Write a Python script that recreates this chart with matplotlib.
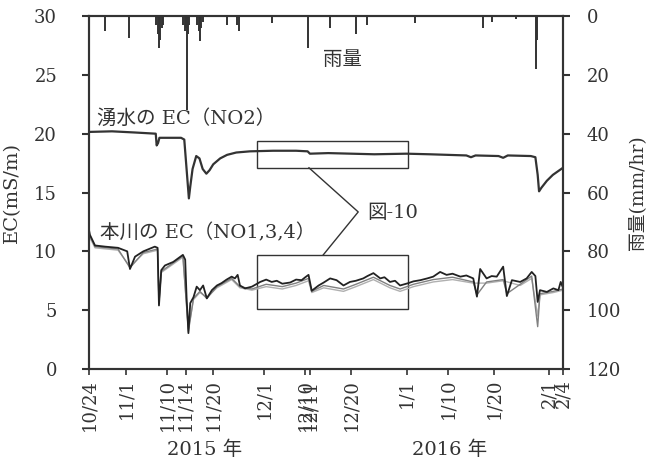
import matplotlib
matplotlib.use('Agg')
import matplotlib.pyplot as plt
import pandas as pd

plt.rcParams['font.family'] = ['DejaVu Serif', 'Noto Sans CJK JP']

start = pd.Timestamp('2015-10-24')

# x 軸の目盛 (日付)
tick_dates = ['2015-10-24', '2015-11-01', '2015-11-10', '2015-11-14', '2015-11-20',
              '2015-12-01', '2015-12-10', '2015-12-11', '2015-12-20',
              '2016-01-01', '2016-01-10', '2016-01-20', '2016-02-01', '2016-02-04']
tick_labels = ['10/24', '11/1', '11/10', '11/14', '11/20', '12/1', '12/10', '12/11',
               '12/20', '1/1', '1/10', '1/20', '2/1', '2/4']

# 湧水の EC (NO2) : 10/24 からの経過日数, mS/m
spring_day = [0, 5, 10, 14.5, 14.7, 15.0, 15.3, 20, 20.7, 21.0, 21.5, 21.7, 22.0, 22.5,
              23.3, 24.0, 24.7, 25.5, 26.2, 27.0, 28.5, 30, 32, 35, 40, 45, 47.5, 48,
              52, 57, 62, 69, 74, 78, 82, 83, 84, 89, 90, 91, 96, 97.0, 97.5, 97.8,
              98.3, 99.5, 100.8, 102.8, 103]
spring_ec = [20.15, 20.2, 20.1, 20.0, 19.0, 19.2, 19.65, 19.65, 19.5, 18.0, 15.5, 14.5,
             15.5, 17.0, 18.1, 17.9, 17.0, 16.6, 16.9, 17.4, 17.9, 18.2, 18.4, 18.5,
             18.55, 18.55, 18.5, 18.3, 18.35, 18.3, 18.25, 18.3, 18.25, 18.2, 18.15,
             18.0, 18.15, 18.1, 17.95, 18.15, 18.1, 18.0, 16.5, 15.1, 15.4, 16.0, 16.5,
             17.05, 17.1]

# 本川の EC (NO1) 濃い線
no1_day = [0, 0.2, 1.3, 3.5, 6.3, 8.3, 8.9, 10, 11.8, 14.3, 14.9, 15.2, 15.7, 16.5,
           18.3, 20.4, 20.9, 21.2, 21.6, 22.0, 22.7, 23.4, 24.1, 24.8, 25.6, 26.7,
           27.8, 28.8, 29.9, 31.0, 31.7, 32.3, 32.8, 33.9, 35.4, 37.2, 38.5, 39.7,
           40.8, 42.0, 43.7, 45.0, 46.2, 47.0, 47.7, 48.4, 49.9, 51.0, 52.4, 53.8,
           55.3, 56.7, 58.0, 59.6, 60.5, 61.8, 63.3, 64.2, 65.4, 66.5, 67.6, 69.4,
           70.5, 72, 73.5, 74.8, 76.3, 77.7, 79.0, 80.7, 82.0, 83.5, 84.3, 85.0,
           86.4, 87.5, 88.6, 90.0, 90.8, 91.9, 93.7, 95.1, 96.2, 97.0, 97.5, 98.0,
           99.5, 100.9, 102.0, 102.5, 103]
no1_ec = [11.8, 11.4, 10.5, 10.4, 10.3, 10.0, 8.5, 9.55, 10.0, 10.4, 10.3, 5.4, 8.4,
          8.8, 9.1, 9.7, 9.3, 6.1, 3.05, 5.6, 6.1, 7.0, 6.7, 7.1, 6.0, 6.7, 7.1, 7.3,
          7.6, 7.85, 7.7, 8.0, 7.1, 6.85, 7.0, 7.4, 7.6, 7.4, 7.5, 7.25, 7.35, 7.6,
          7.55, 7.8, 8.0, 6.65, 7.1, 7.35, 7.7, 7.55, 7.1, 7.4, 7.5, 7.7, 7.9, 8.15,
          7.7, 7.8, 7.4, 7.5, 7.1, 7.3, 7.45, 7.55, 7.7, 7.85, 8.25, 8.0, 8.1, 7.85,
          7.95, 7.7, 6.15, 8.5, 7.7, 7.9, 7.85, 8.7, 6.2, 7.55, 7.4, 7.7, 8.25, 7.9,
          5.7, 6.7, 6.55, 6.85, 6.7, 7.4, 6.9]

# 本川の EC (NO3, NO4) 灰色の線
no3_day = [0, 1.3, 6.3, 8.9, 11.8, 14.9, 15.2, 15.7, 20.4, 21.6, 22.7, 24.1, 25.6,
           27.8, 31.0, 32.8, 35.4, 38.5, 42.0, 45.0, 47.7, 48.4, 51.0, 55.3, 58.0,
           61.8, 65.4, 67.6, 70.5, 74.8, 79.0, 83.5, 84.3, 86.4, 90.0, 90.8, 93.7,
           96.2, 97.5, 98.0, 100.9, 103]
no3_ec = [11.5, 10.4, 10.2, 8.6, 9.9, 10.2, 5.6, 8.3, 9.6, 3.2, 6.0, 6.6, 6.0, 7.0,
          7.7, 7.0, 6.8, 7.2, 7.0, 7.3, 7.7, 6.6, 7.1, 6.8, 7.2, 7.8, 7.1, 6.8, 7.2,
          7.6, 7.8, 7.4, 6.3, 7.4, 7.6, 6.4, 7.2, 7.9, 3.6, 6.4, 6.6, 6.8]
no4_day = [0, 1.3, 6.3, 8.9, 11.8, 14.9, 15.2, 15.7, 20.4, 21.6, 22.7, 24.1, 25.6,
           27.8, 31.0, 32.8, 35.4, 38.5, 42.0, 45.0, 47.7, 48.4, 51.0, 55.3, 58.0,
           61.8, 65.4, 67.6, 70.5, 74.8, 79.0, 83.5, 86.4, 90.0, 93.7, 96.2, 97.5,
           98.0, 100.9, 103]
no4_ec = [11.3, 10.3, 10.1, 8.7, 9.8, 10.1, 5.8, 8.2, 9.5, 3.4, 5.9, 6.5, 6.1, 6.9,
          7.6, 6.9, 6.7, 7.0, 6.8, 7.1, 7.5, 6.5, 6.9, 6.6, 7.0, 7.6, 6.9, 6.6, 7.0,
          7.4, 7.6, 7.3, 7.3, 7.5, 7.1, 7.7, 4.5, 6.3, 6.5, 6.7]

# 雨量 (mm/hr)
rain_day = [3.5, 8.7, 14.6, 14.9, 15.2, 15.5, 15.8, 16.1, 20.4, 20.8, 21.0, 21.3, 21.6,
            21.8, 23.5, 23.8, 24.1, 24.4, 24.8, 29.9, 32.2, 32.5, 39.8, 47.6, 52.4,
            58.0, 60.4, 70.9, 85.7, 87.6, 92.8, 97.2, 97.4]
rain_mm = [5, 7.5, 3, 6, 11, 8, 4, 3, 3, 5, 4, 32, 6, 3, 3, 5, 8.5, 4, 2, 3, 3, 5, 2.5,
           11, 4, 6, 3, 2.5, 4, 2, 1, 18, 8]

# 図-10 の範囲
zoom_day = [36.5, 69.3]
zoom_spring = [17.1, 19.4]
zoom_river = [5.1, 9.7]

ticks = [(pd.Timestamp(d) - start).days for d in tick_dates]

fig = plt.figure(figsize=(6.46, 4.63), dpi=100)
ax = fig.add_axes([0.1378, 0.203, 0.7337, 0.7624])
ax2 = ax.twinx()

ax.plot(no4_day, no4_ec, color='#b0b0b0', lw=1.0)
ax.plot(no3_day, no3_ec, color='#808080', lw=1.0)
ax.plot(no1_day, no1_ec, color='#222222', lw=1.3)
ax.plot(spring_day, spring_ec, color='#333333', lw=1.6)

ax2.vlines(rain_day, 0, rain_mm, color='#333333', lw=1.4)

ax.set_xlim(0, 103)
ax.set_ylim(0, 30)
ax.set_yticks(range(0, 31, 5))
ax2.set_ylim(120, 0)
ax2.set_yticks(range(0, 121, 20))
ax.set_xticks(ticks)
ax.set_xticklabels(tick_labels, rotation=90)

for a in (ax, ax2):
    for s in a.spines.values():
        s.set_linewidth(1.5)
        s.set_color('#333333')
ax.tick_params(axis='y', direction='out', length=5, width=1.5, pad=18, labelsize=13,
               colors='#333333')
ax.tick_params(axis='x', direction='out', length=4, width=1.2, pad=3, labelsize=13,
               colors='#333333')
ax2.tick_params(axis='y', direction='out', length=5, width=1.5, pad=12, labelsize=13,
                colors='#333333')

ax.set_ylabel('EC(mS/m)', fontsize=14, color='#333333')
ax.yaxis.set_label_coords(-0.143, 0.5)
ax2.set_ylabel('雨量(mm/hr)', fontsize=13.5, color='#333333')
ax2.yaxis.set_label_coords(1.138, 0.5)

xt = ax.get_xaxis_transform()
ax.text(25.2, -0.229, '2015 年', transform=xt, ha='center', va='center', fontsize=14,
        color='#333333')
ax.text(78.3, -0.229, '2016 年', transform=xt, ha='center', va='center', fontsize=14,
        color='#333333')

ax.text(1.7, 21.3, '湧水の EC（NO2）', fontsize=14, va='center', color='#333333')
ax.text(2.4, 11.6, '本川の EC（NO1,3,4）', fontsize=14, va='center', color='#333333')
ax.text(50.9, 26.25, '雨量', fontsize=14, va='center', color='#333333')
ax.text(60.4, 13.3, '図-10', fontsize=14, va='center', color='#333333')

for lo, hi in (zoom_spring, zoom_river):
    ax.add_patch(plt.Rectangle((zoom_day[0], lo), zoom_day[1] - zoom_day[0], hi - lo,
                               fill=False, ec='#333333', lw=1.0))
ax.plot([47.8, 58.5, 50.9], [zoom_spring[0], 13.35, zoom_river[1]], color='#333333',
        lw=1.0)

fig.savefig('out.png', dpi=100)
